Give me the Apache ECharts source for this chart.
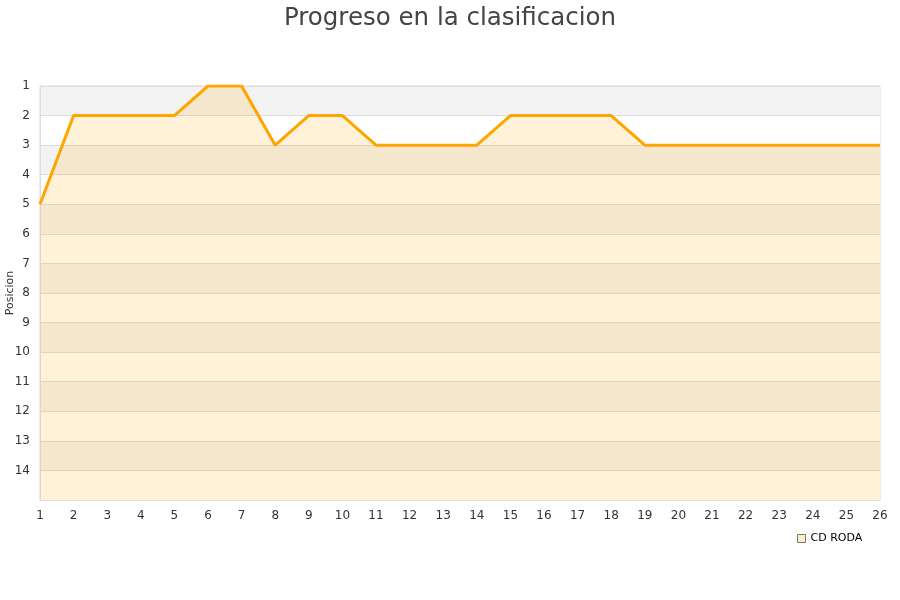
<!DOCTYPE html>
<html><head><meta charset="utf-8">
<script src="https://cdn.jsdelivr.net/npm/echarts@6/dist/echarts.min.js"></script>
<style>html,body{margin:0;padding:0;background:#fff}#c{width:900px;height:600px}</style>
</head><body><div id="c"></div>
<script>
var jornadas = [1,2,3,4,5,6,7,8,9,10,11,12,13,14,15,16,17,18,19,20,21,22,23,24,25,26];
var posiciones = [5,2,2,2,2,1,1,3,2,2,3,3,3,3,2,2,2,2,3,3,3,3,3,3,3,3];
var seriesName = 'CD RODA';
var titleText = 'Progreso en la clasificacion';
var yName = 'Posicion';

var chart = echarts.init(document.getElementById('c'));
chart.setOption({
  animation: false,
  title: { text: titleText, left: 'center', top: 1,
    textStyle: { fontFamily: 'DejaVu Sans', fontSize: 24.5, fontWeight: 'normal', color: '#444' } },
  grid: { left: 40, right: 20, top: 86, bottom: 100, containLabel: false, outerBoundsMode: 'none',
    show: true, borderColor: '#ddd', borderWidth: 1 },
  legend: { left: 792, top: 528, itemWidth: 8, itemHeight: 8, icon: 'rect', itemGap: 8,
    textStyle: { fontFamily: 'DejaVu Sans', fontSize: 11, color: '#000' },
    data: [{ name: seriesName, itemStyle: { color: '#ffecc8', borderColor: '#777', borderWidth: 1 } }] },
  xAxis: { type: 'value', min: 1, max: 26, interval: 1,
    axisLine: { show: true, lineStyle: { color: '#ddd' } }, axisTick: { show: false },
    splitLine: { show: false },
    axisLabel: { color: '#333', fontFamily: 'DejaVu Sans', fontSize: 12, margin: 10 } },
  yAxis: { type: 'value', inverse: true, min: 1, max: 15, interval: 1,
    name: yName, nameLocation: 'middle', nameGap: 24, nameRotate: 90, nameMoveOverlap: false,
    nameTextStyle: { fontFamily: 'DejaVu Sans', fontSize: 11, color: '#333' },
    axisLine: { show: true, lineStyle: { color: '#ddd' } }, axisTick: { show: false },
    axisLabel: { color: '#333', fontFamily: 'DejaVu Sans', fontSize: 12, margin: 10,
      formatter: function (v) { return v === 15 ? '' : v; } },
    splitLine: { show: true, lineStyle: { color: '#ddd' } },
    splitArea: { show: true, areaStyle: { color: ['#f3f3f3', '#ffffff'] } } },
  series: [{
    name: seriesName, type: 'line',
    data: jornadas.map(function (j, i) { return [j, posiciones[i]]; }),
    showSymbol: false, symbol: 'none',
    lineStyle: { color: '#ffa500', width: 3 },
    itemStyle: { color: '#ffa500' },
    areaStyle: { color: 'rgba(255,165,0,0.21)', origin: 'end' }
  }]
});
</script></body></html>
